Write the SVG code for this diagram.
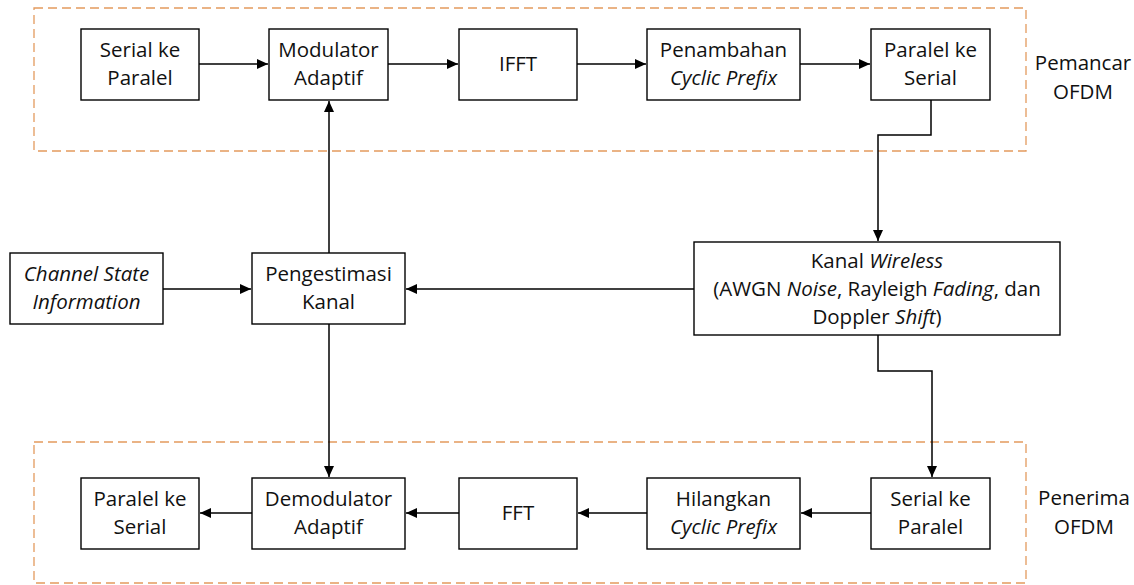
<svg xmlns="http://www.w3.org/2000/svg" width="1134" height="585" viewBox="0 0 1134 585">
<style>
.box{fill:#fff;stroke:#000;stroke-width:1.4}
.grp{fill:none;stroke:#E39A5E;stroke-width:1.3;stroke-dasharray:9 5}
.t{font-family:"Open Sans","Liberation Sans",sans-serif;font-size:20.5px;fill:#111;text-anchor:middle}
.i{font-style:italic}
.c{fill:none;stroke:#000;stroke-width:1.5}
</style>
<defs>
<marker id="ah" markerUnits="userSpaceOnUse" markerWidth="12" markerHeight="11" refX="11" refY="5.5" orient="auto">
<path d="M0,0.5 L11,5.5 L0,10.5 z" fill="#000"/>
</marker>
</defs>
<g id="groups">
<rect class="grp" x="34" y="8" width="992" height="143"/>
<rect class="grp" x="34" y="442" width="992" height="141"/>
</g>
<g id="connectors">
<line class="c" x1="199" y1="64" x2="268" y2="64" marker-end="url(#ah)"/>
<line class="c" x1="388" y1="64" x2="458" y2="64" marker-end="url(#ah)"/>
<line class="c" x1="577" y1="64" x2="646" y2="64" marker-end="url(#ah)"/>
<line class="c" x1="800" y1="64" x2="870" y2="64" marker-end="url(#ah)"/>
<path class="c" d="M931,100 V135 H878 V241" marker-end="url(#ah)"/>
<line class="c" x1="694" y1="289" x2="406" y2="289" marker-end="url(#ah)"/>
<line class="c" x1="163" y1="289" x2="251" y2="289" marker-end="url(#ah)"/>
<line class="c" x1="329" y1="253" x2="329" y2="101" marker-end="url(#ah)"/>
<line class="c" x1="329" y1="324" x2="329" y2="477" marker-end="url(#ah)"/>
<path class="c" d="M878,335 V371 H932 V477" marker-end="url(#ah)"/>
<line class="c" x1="871" y1="513" x2="801" y2="513" marker-end="url(#ah)"/>
<line class="c" x1="647" y1="513" x2="578" y2="513" marker-end="url(#ah)"/>
<line class="c" x1="459" y1="513" x2="406" y2="513" marker-end="url(#ah)"/>
<line class="c" x1="252" y1="513" x2="200" y2="513" marker-end="url(#ah)"/>
</g>
<g id="n-sp1"><rect class="box" x="81" y="29" width="118" height="71"/><text class="t" x="140" y="57">Serial ke</text><text class="t" x="140" y="85">Paralel</text></g>
<g id="n-mod"><rect class="box" x="269" y="29" width="119" height="71"/><text class="t" x="328.5" y="57">Modulator</text><text class="t" x="328.5" y="85">Adaptif</text></g>
<g id="n-ifft"><rect class="box" x="459" y="29" width="118" height="71"/><text class="t" x="518" y="71">IFFT</text></g>
<g id="n-cp1"><rect class="box" x="647" y="29" width="153" height="71"/><text class="t" x="723.5" y="57">Penambahan</text><text class="t i" x="723.5" y="85">Cyclic Prefix</text></g>
<g id="n-ps1"><rect class="box" x="871" y="29" width="119" height="71"/><text class="t" x="930.5" y="57">Paralel ke</text><text class="t" x="930.5" y="85">Serial</text></g>
<g id="l-tx"><text class="t" x="1083" y="70">Pemancar</text><text class="t" x="1083" y="99">OFDM</text></g>
<g id="n-csi"><rect class="box" x="10" y="253" width="153" height="71"/><text class="t i" x="86.5" y="281">Channel State</text><text class="t i" x="86.5" y="309">Information</text></g>
<g id="n-est"><rect class="box" x="252" y="253" width="153" height="71"/><text class="t" x="328.5" y="281">Pengestimasi</text><text class="t" x="328.5" y="309">Kanal</text></g>
<g id="n-ch"><rect class="box" x="694" y="242" width="366" height="93"/><text class="t" x="877" y="268">Kanal <tspan class="i">Wireless</tspan></text><text class="t" x="877" y="296">(AWGN <tspan class="i">Noise</tspan>, Rayleigh <tspan class="i">Fading</tspan>, dan</text><text class="t" x="877" y="324">Doppler <tspan class="i">Shift</tspan>)</text></g>
<g id="n-ps2"><rect class="box" x="81" y="478" width="118" height="71"/><text class="t" x="140" y="506">Paralel ke</text><text class="t" x="140" y="534">Serial</text></g>
<g id="n-dem"><rect class="box" x="252" y="478" width="153" height="71"/><text class="t" x="328.5" y="506">Demodulator</text><text class="t" x="328.5" y="534">Adaptif</text></g>
<g id="n-fft"><rect class="box" x="459" y="478" width="118" height="71"/><text class="t" x="518" y="520">FFT</text></g>
<g id="n-cp2"><rect class="box" x="647" y="478" width="153" height="71"/><text class="t" x="723.5" y="506">Hilangkan</text><text class="t i" x="723.5" y="534">Cyclic Prefix</text></g>
<g id="n-sp2"><rect class="box" x="871" y="478" width="119" height="71"/><text class="t" x="930.5" y="506">Serial ke</text><text class="t" x="930.5" y="534">Paralel</text></g>
<g id="l-rx"><text class="t" x="1084" y="505">Penerima</text><text class="t" x="1084" y="534">OFDM</text></g>
</svg>
